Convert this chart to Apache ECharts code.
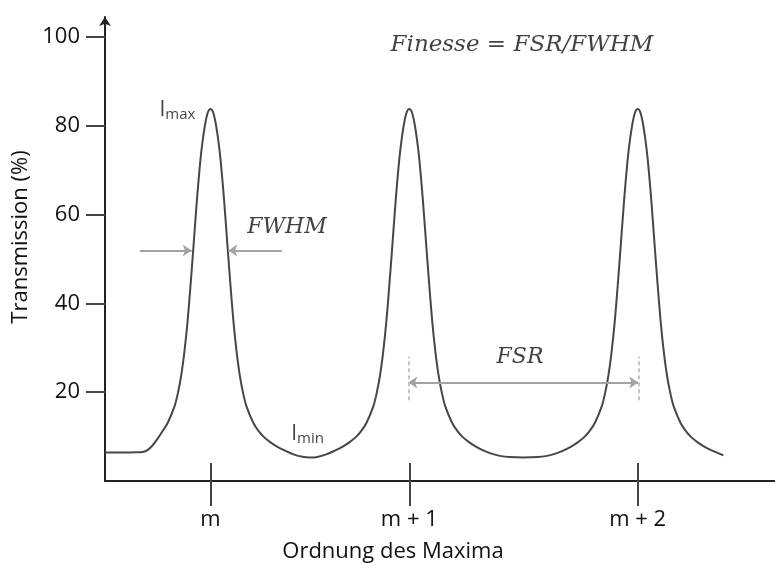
<!DOCTYPE html>
<html>
<head>
<meta charset="utf-8">
<script src="https://cdn.jsdelivr.net/npm/echarts@6/dist/echarts.min.js"></script>
<style>
  html, body { margin: 0; padding: 0; background: #fff; }
  #chart { width: 775px; height: 563px; }
</style>
</head>
<body>
<div id="chart"></div>
<script>
// Order labels and where each transmission maximum sits on the phase axis
const peakOrders = ['m', 'm + 1', 'm + 2'];
const peakPositions = [10.55, 30.43, 53.27];

// Transmission ticks (%)
const yTicks = [20, 40, 60, 80, 100];

// Phase samples along the curve and the transmission at each (%)
const phase = [
  0.0, 1.5, 2.5, 3.05, 3.75, 4.25, 4.75, 5.25, 5.75, 6.25, 6.95, 7.3, 7.65, 7.95, 8.25, 8.55, 8.82,
  9.2, 9.55, 9.8, 10.05, 10.3, 10.55,
  10.8, 11.05, 11.3, 11.55, 11.9, 12.28, 12.55, 12.85, 13.15, 13.45, 13.8, 14.15, 14.85, 15.35,
  15.85, 16.55, 17.25, 18.05, 18.85, 19.75, 20.5,
  21.23, 22.13, 22.93, 23.73, 24.43, 25.13, 25.63, 26.13, 26.83, 27.18, 27.53, 27.83, 28.13, 28.43,
  28.7, 29.08, 29.43, 29.68, 29.93, 30.18, 30.43,
  30.68, 30.93, 31.18, 31.43, 31.78, 32.16, 32.43, 32.73, 33.03, 33.33, 33.68, 34.03, 34.73, 35.23,
  35.73, 36.43, 37.13, 37.93, 38.73, 39.63, 40.43, 41.85,
  43.27, 44.07, 44.97, 45.77, 46.57, 47.27, 47.97, 48.47, 48.97, 49.67, 50.02, 50.37, 50.67, 50.97,
  51.27, 51.54, 51.92, 52.27, 52.52, 52.77, 53.02, 53.27,
  53.52, 53.77, 54.02, 54.27, 54.62, 55.0, 55.27, 55.57, 55.87, 56.17, 56.52, 56.87, 57.57, 58.07,
  58.57, 59.27, 59.97, 60.77, 61.83
];
const transmission = [
  6.4, 6.4, 6.42, 6.45, 6.55, 6.95, 8.0, 9.5, 11.2, 13.0, 16.8, 19.9, 24.2, 29.3, 35.8, 44.0, 52.0,
  63.5, 72.5, 77.2, 80.8, 83.1, 83.8,
  83.1, 80.8, 77.2, 72.5, 63.5, 52.0, 44.0, 35.8, 29.3, 24.2, 19.9, 16.8, 13.0, 11.3,
  10.0, 8.7, 7.7, 6.8, 6.0, 5.45, 5.3,
  5.42, 6.0, 6.8, 7.7, 8.7, 10.0, 11.3, 13.0, 16.8, 19.9, 24.2, 29.3, 35.8, 44.0,
  52.0, 63.5, 72.5, 77.2, 80.8, 83.1, 83.8,
  83.1, 80.8, 77.2, 72.5, 63.5, 52.0, 44.0, 35.8, 29.3, 24.2, 19.9, 16.8, 13.0, 11.3,
  10.0, 8.7, 7.7, 6.8, 6.1, 5.6, 5.4, 5.3,
  5.4, 5.6, 6.1, 6.8, 7.7, 8.7, 10.0, 11.3, 13.0, 16.8, 19.9, 24.2, 29.3, 35.8,
  44.0, 52.0, 63.5, 72.5, 77.2, 80.8, 83.1, 83.8,
  83.1, 80.8, 77.2, 72.5, 63.5, 52.0, 44.0, 35.8, 29.3, 24.2, 19.9, 16.8, 13.0, 11.3,
  10.0, 8.7, 7.7, 6.8, 5.8
];

// Width markers: level and the two arrow spans [from, to]
const fwhmLevel = 51.9;
const fwhmLeft = [3.5, 8.67];
const fwhmRight = [17.67, 12.33];

// Free spectral range marker between neighbouring maxima
const fsrLevel = 22.2;
const fsrSpan = [30.33, 53.33];
const fsrGuide = [18.2, 28.0];

// Annotation texts: [phase, transmission, text]
const noteFinesse = [41.7, 98.2, 'Finesse = FSR/FWHM'];
const noteFwhm = [18.2, 57.2, 'FWHM'];
const noteFsr = [41.5, 27.9, 'FSR'];
const noteImax = [5.45, 83.5, 'max'];
const noteImin = [18.62, 10.6, 'min'];

const sans = 'Open Sans';
const serif = 'DejaVu Serif';
const arrowGray = '#a3a3a3';

const curve = phase.map((p, i) => [p, transmission[i]]);

function arrow(x1, x2, y, startArrow) {
  return [
    { coord: [x1, y], symbol: startArrow ? 'arrow' : 'none' },
    { coord: [x2, y], symbol: 'arrow' }
  ];
}
function guide(x) {
  return [
    { coord: [x, fsrGuide[0]], symbol: 'none',
      lineStyle: { type: [4, 3], color: '#c4c4c4', width: 2 } },
    { coord: [x, fsrGuide[1]], symbol: 'none' }
  ];
}

const mathText = { fontFamily: serif, fontStyle: 'italic', fontSize: 22, color: '#111' };
const subRich = {
  i: { fontFamily: sans, fontSize: 21, color: '#111', lineHeight: 24 },
  s: { fontFamily: sans, fontSize: 15, color: '#111', lineHeight: 14, verticalAlign: 'bottom' }
};

const chart = echarts.init(document.getElementById('chart'), null, { renderer: 'canvas' });

chart.setOption({
  animation: false,
  backgroundColor: '#fff',
  grid: { left: 105, right: 0, top: 17, bottom: 82, containLabel: false, outerBoundsMode: 'none' },
  xAxis: [
    {
      type: 'value', position: 'bottom', min: 0, max: 67,
      name: 'Ordnung des Maxima', nameLocation: 'middle', nameGap: 60,
      nameTextStyle: { fontFamily: sans, fontSize: 22, color: '#111', padding: [0, 94, 0, 0] },
      axisLine: { show: true, lineStyle: { color: '#222', width: 2 } },
      axisTick: { show: true, length: 25, inside: false, customValues: peakPositions,
        lineStyle: { color: '#444', width: 2 } },
      axisLabel: { customValues: peakPositions, margin: 28,
        fontFamily: sans, fontSize: 22, color: '#111',
        formatter: v => peakOrders[peakPositions.indexOf(v)] },
      splitLine: { show: false }
    },
    {
      type: 'value', position: 'bottom', min: 0, max: 67,
      axisLine: { show: false },
      axisTick: { show: true, length: 18, inside: true, customValues: peakPositions,
        lineStyle: { color: '#444', width: 2 } },
      axisLabel: { show: false },
      splitLine: { show: false }
    }
  ],
  yAxis: {
    type: 'value', min: 0, max: 104.5,
    name: 'Transmission (%)', nameLocation: 'middle', nameGap: 59,
    nameTextStyle: { fontFamily: sans, fontSize: 22, color: '#111', padding: [0, 0, 0, 24] },
    axisLine: { show: true, symbol: ['none', 'arrow'], symbolSize: [9, 9],
      lineStyle: { color: '#222', width: 2 } },
    axisTick: { show: true, length: 19, customValues: yTicks,
      lineStyle: { color: '#444', width: 2 } },
    axisLabel: { customValues: yTicks, margin: 25, fontFamily: sans, fontSize: 22, color: '#111' },
    splitLine: { show: false }
  },
  series: [
    {
      type: 'line',
      data: curve,
      showSymbol: false,
      smooth: 0.3,
      lineStyle: { color: '#474747', width: 2 },
      z: 3,
      markLine: {
        silent: true,
        symbolSize: [9, 9],
        label: { show: false },
        lineStyle: { color: arrowGray, width: 2, type: 'solid' },
        data: [
          arrow(fwhmLeft[0], fwhmLeft[1], fwhmLevel, false),
          arrow(fwhmRight[0], fwhmRight[1], fwhmLevel, false),
          arrow(fsrSpan[0], fsrSpan[1], fsrLevel, true),
          guide(fsrSpan[0]),
          guide(fsrSpan[1])
        ]
      }
    },
    {
      type: 'scatter',
      symbolSize: 0,
      silent: true,
      z: 5,
      data: [
        { value: [noteFinesse[0], noteFinesse[1]],
          label: { show: true, position: 'inside', formatter: noteFinesse[2], ...mathText, fontSize: 23 } },
        { value: [noteFwhm[0], noteFwhm[1]],
          label: { show: true, position: 'inside', formatter: noteFwhm[2], ...mathText } },
        { value: [noteFsr[0], noteFsr[1]],
          label: { show: true, position: 'inside', formatter: noteFsr[2], ...mathText } },
        { value: [noteImax[0], noteImax[1]],
          label: { show: true, position: [0, 0], align: 'left', verticalAlign: 'middle',
            formatter: '{i|I}{s|' + noteImax[2] + '}', rich: subRich } },
        { value: [noteImin[0], noteImin[1]],
          label: { show: true, position: [0, 0], align: 'left', verticalAlign: 'middle',
            formatter: '{i|I}{s|' + noteImin[2] + '}', rich: subRich } }
      ]
    }
  ]
});
</script>
</body>
</html>
